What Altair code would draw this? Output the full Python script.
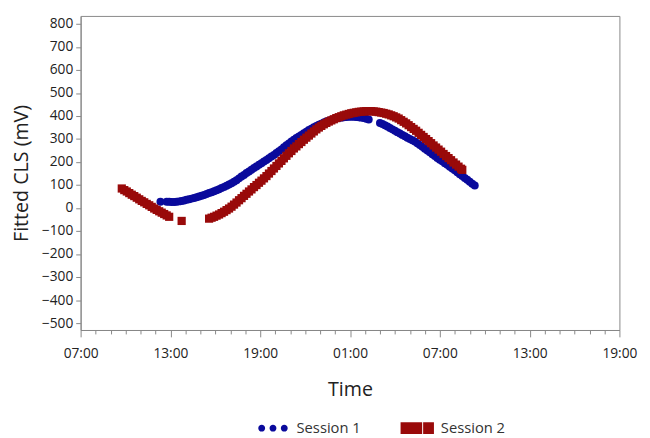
import json
import altair as alt
import pandas as pd

# ---- data (minutes after 07:00 of day 1, fitted CLS in mV)
series_names = ["Session 1", "Session 2"]
series_colors = ["#0a0a9c", "#990a0a"]

blue_minutes = [320,
                345, 355, 365, 375, 385, 395, 405, 415, 425, 435, 445, 455, 465, 475, 485,
                495, 505, 515, 525, 535, 545, 555, 565, 575, 585, 595, 605, 615, 625, 635,
                645, 655, 665, 675, 685, 695, 705, 715, 725, 735, 745, 755, 765, 775, 785,
                795, 805, 815, 825, 835, 845, 855, 865, 875, 885, 895, 905, 915, 925, 935,
                945, 955, 965, 975, 985, 995, 1005, 1015, 1025, 1035, 1045, 1055, 1065,
                1075, 1085, 1095, 1105, 1115, 1125, 1135, 1145, 1155,
                1200, 1210, 1220, 1230, 1240, 1250, 1260, 1270, 1280, 1290, 1300, 1310,
                1320, 1330, 1340, 1350, 1360, 1370, 1380, 1390, 1400, 1410, 1420, 1430,
                1440, 1450, 1460, 1470, 1480, 1490, 1500, 1510, 1520, 1530, 1540, 1550,
                1560, 1570, 1580]
blue_values = [27,
               27, 27, 26, 26, 27, 29, 31, 33, 36, 38, 41, 44, 47, 50, 53,
               57, 61, 65, 69, 73, 77, 82, 87, 92, 97, 102, 108, 114, 121, 129,
               137, 144, 152, 159, 166, 174, 181, 188, 195, 202, 209, 216, 224, 231, 239,
               247, 255, 264, 273, 281, 289, 297, 304, 311, 318, 325, 332, 339, 345, 351,
               357, 362, 367, 372, 376, 380, 383, 386, 389, 391, 393, 395, 396,
               397, 397, 397, 396, 395, 393, 391, 388, 385,
               370, 365, 360, 354, 348, 342, 336, 330, 324, 318, 312, 306,
               300, 295, 289, 282, 274, 266, 258, 250, 242, 234, 226, 218,
               210, 203, 195, 188, 180, 172, 164, 156, 147, 139, 131, 123,
               114, 106, 98]

red_minutes = [165, 175, 185, 195, 205, 215, 225, 235, 245, 255, 265, 275, 285, 295,
               305, 315, 325, 335, 345, 355,
               405,
               515, 525, 535, 545, 555, 565, 575, 585, 595, 605, 615, 625, 635, 645, 655,
               665, 675, 685, 695, 705, 715, 725, 735, 745, 755, 765, 775, 785, 795, 805,
               815, 825, 835, 845, 855, 865, 875, 885, 895, 905, 915, 925, 935, 945, 955,
               965, 975, 985, 995, 1005, 1015, 1025, 1035, 1045, 1055, 1065, 1075, 1085,
               1095, 1105, 1115, 1125, 1135, 1145, 1155, 1165, 1175, 1185, 1195, 1205,
               1215, 1225, 1235, 1245, 1255, 1265, 1275, 1285, 1295, 1305, 1315, 1325,
               1335, 1345, 1355, 1365, 1375, 1385, 1395, 1405, 1415, 1425, 1435, 1445,
               1455, 1465, 1475, 1485, 1495, 1505, 1515, 1525, 1530]
red_values = [85, 78, 72, 65, 58, 52, 45, 38, 31, 25, 18, 12, 5, -2,
              -8, -14, -20, -26, -32, -38,
              -56,
              -46, -42, -38, -33, -28, -22, -16, -9, -2, 6, 15, 24, 34, 43, 53,
              62, 72, 81, 91, 100, 110, 119, 129, 139, 150, 161, 172, 183, 194, 205,
              216, 227, 238, 248, 259, 268, 278, 287, 297, 306, 315, 324, 333, 342, 350,
              357, 364, 370, 376, 381, 386, 391, 395, 399, 403, 406, 409, 412,
              414, 416, 418, 419, 420, 421, 421, 421, 420, 419, 417, 415,
              413, 410, 407, 403, 399, 394, 389, 382, 375, 368, 360, 352,
              344, 336, 327, 318, 309, 300, 291, 282, 272, 263, 254, 245,
              235, 226, 217, 208, 198, 189, 180, 171, 166]

x_tick_labels = ["07:00", "13:00", "19:00", "01:00", "07:00", "13:00", "19:00"]
y_ticks = list(range(-500, 801, 100))

FONT = "Open Sans"

df = pd.concat([
    pd.DataFrame({"minutes": blue_minutes, "value": blue_values, "series": series_names[0]}),
    pd.DataFrame({"minutes": red_minutes, "value": red_values, "series": series_names[1]}),
])
legend_df = pd.DataFrame({"series": series_names})

# legend glyphs: three dots / a double block (scaled by sqrt(symbolSize)/2)
dots_path = ("M -1.5,0 A 0.35,0.35 0 1,0 -0.8,0 A 0.35,0.35 0 1,0 -1.5,0 Z "
             "M -0.35,0 A 0.35,0.35 0 1,0 0.35,0 A 0.35,0.35 0 1,0 -0.35,0 Z "
             "M 0.8,0 A 0.35,0.35 0 1,0 1.5,0 A 0.35,0.35 0 1,0 0.8,0 Z")
block_path = ("M -1.7,-0.6 L 0.5,-0.6 L 0.5,0.6 L -1.7,0.6 Z "
              "M 0.6,-0.6 L 1.7,-0.6 L 1.7,0.6 L 0.6,0.6 Z")

label_expr = "{}[floor(datum.value / 360)]".format(json.dumps(x_tick_labels))

x_enc = alt.X(
    "minutes:Q",
    scale=alt.Scale(domain=[0, 2160], nice=False, zero=False),
    axis=alt.Axis(
        title="Time",
        values=list(range(0, 2161, 60)),
        labelExpr="datum.value % 360 === 0 ? " + label_expr + " : ''",
        tickSize={"condition": {"test": "datum.value % 360 === 0", "value": 7}, "value": 4},
        labelPadding=10,
        titlePadding=20,
        labelOverlap=False,
        labelFlush=False,
        grid=False,
    ),
)
y_enc = alt.Y(
    "value:Q",
    scale=alt.Scale(domain=[-530, 835], nice=False, zero=False),
    axis=alt.Axis(
        title="Fitted CLS (mV)",
        values=y_ticks,
        tickSize=5,
        labelPadding=3,
        titlePadding=10,
        grid=False,
    ),
)

blue = alt.Chart(df).transform_filter(
    alt.datum.series == series_names[0]
).mark_circle(size=66, opacity=1, color=series_colors[0]).encode(x=x_enc, y=y_enc)

red = alt.Chart(df).transform_filter(
    alt.datum.series == series_names[1]
).mark_square(size=70, opacity=1, color=series_colors[1]).encode(x=x_enc, y=y_enc)

leg = alt.Legend(
    title=None,
    orient="none",
    legendX=186,
    legendY=410,
    direction="horizontal",
    labelFont=FONT,
    labelFontSize=15,
    labelColor="#333333",
    symbolSize=400,
    symbolStrokeWidth=0,
    symbolOpacity=1,
    labelOffset=14,
    columnPadding=40,
    padding=0,
)
legend_layer = alt.Chart(legend_df).mark_point(filled=True, opacity=0).encode(
    color=alt.Color("series:N", scale=alt.Scale(domain=series_names, range=series_colors), legend=leg),
    shape=alt.Shape("series:N", scale=alt.Scale(domain=series_names, range=[dots_path, block_path]), legend=leg),
)

chart = alt.layer(blue, red, legend_layer).properties(
    width=549,
    height=320,
    padding={"top": 4, "left": 3, "right": 5, "bottom": 0},
).configure_view(
    stroke="#888888", strokeWidth=1
).configure_axis(
    labelFont=FONT,
    titleFont=FONT,
    labelFontSize=14,
    titleFontSize=20,
    titleFontWeight="normal",
    labelColor="#222222",
    titleColor="#222222",
    domainColor="#888888",
    tickColor="#888888",
)

chart.save("out.html", embed_options={"renderer": "svg", "actions": False})
